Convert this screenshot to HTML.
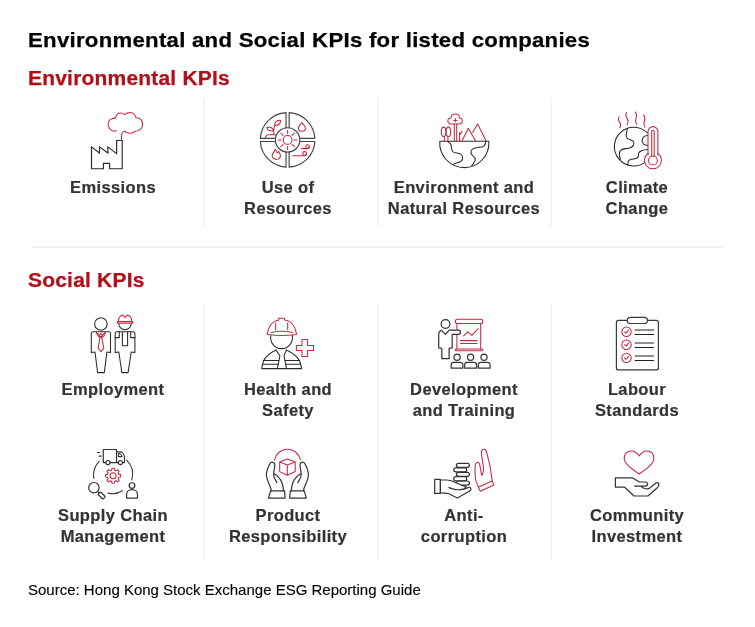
<!DOCTYPE html>
<html lang="en">
<head>
<meta charset="utf-8">
<title>Environmental and Social KPIs for listed companies</title>
<style>
html,body{margin:0;padding:0;background:#fff;}
body{width:755px;height:627px;position:relative;overflow:hidden;font-family:"Liberation Sans",Arial,sans-serif;}
.t{position:absolute;white-space:nowrap;transform-origin:0 50%;}
#title{left:28px;top:28px;font-size:20.5px;font-weight:bold;color:#000;letter-spacing:.25px;transform:scaleX(1.082);line-height:24px;-webkit-text-stroke:.25px #000;}
.sec{left:28px;font-size:19.5px;font-weight:bold;color:#b30f1b;letter-spacing:.2px;transform:scaleX(1.075);line-height:24px;-webkit-text-stroke:.25px #b30f1b;}
#env{top:66px;}
#soc{top:268px;}
.lab{position:absolute;width:200px;text-align:center;font-size:16.5px;line-height:21px;font-weight:bold;color:#333;letter-spacing:.38px;-webkit-text-stroke:.2px #333;}
#src{left:28px;top:580.5px;font-size:15px;color:#000;line-height:18px;-webkit-text-stroke:.12px #000;}
.vl{position:absolute;width:2px;background:#f4f4f4;}
.hl{position:absolute;height:2px;background:#f0f0f0;left:32px;width:690px;top:246px;}
svg#ic{position:absolute;left:0;top:0;}
</style>
</head>
<body>
<div id="title" class="t">Environmental and Social KPIs for listed companies</div>
<div id="env" class="t sec">Environmental KPIs</div>
<div id="soc" class="t sec">Social KPIs</div>

<div class="vl" style="left:203px;top:98px;height:128px"></div>
<div class="vl" style="left:377px;top:98px;height:128px"></div>
<div class="vl" style="left:550px;top:98px;height:128px"></div>
<div class="hl"></div>
<div class="vl" style="left:203px;top:303px;height:257px"></div>
<div class="vl" style="left:377px;top:303px;height:257px"></div>
<div class="vl" style="left:550px;top:303px;height:257px"></div>

<div class="lab" style="left:13px;top:177px">Emissions</div>
<div class="lab" style="left:188px;top:177px">Use of<br>Resources</div>
<div class="lab" style="left:364px;top:177px">Environment and<br>Natural Resources</div>
<div class="lab" style="left:537px;top:177px">Climate<br>Change</div>

<div class="lab" style="left:13px;top:379px">Employment</div>
<div class="lab" style="left:188px;top:379px">Health and<br>Safety</div>
<div class="lab" style="left:364px;top:379px">Development<br>and Training</div>
<div class="lab" style="left:537px;top:379px">Labour<br>Standards</div>

<div class="lab" style="left:13px;top:505px">Supply Chain<br>Management</div>
<div class="lab" style="left:188px;top:505px">Product<br>Responsibility</div>
<div class="lab" style="left:364px;top:505px">Anti-<br>corruption</div>
<div class="lab" style="left:537px;top:505px">Community<br>Investment</div>

<div id="src" class="t">Source: Hong Kong Stock Exchange ESG Reporting Guide</div>

<svg id="ic" width="755" height="627" viewBox="0 0 755 627" fill="none" stroke-linecap="round" stroke-linejoin="round" stroke-width="1.05">
<g id="i-emissions">
<path stroke="#2a2a2a" stroke-width="1.15" stroke-linejoin="miter" d="M91.5 146.9 L99.5 153 V146.9 L107.9 153 V146.9 L116.6 153.6 V140.5 H122.2 V168.7 H109.6 V163.3 H103.4 V168.7 H91.5 Z"/>
<path stroke="#c22a42" d="M116.4 130.8 C114.8 131.4 113.2 131.2 111.9 130.5 C109.6 129.4 108.2 127 108.2 124.3 C108.2 121.4 109.8 119.4 111.9 118.7 C113.2 118.2 114.4 118 115.5 118.2 C116 115.2 117.8 113 120.3 113 C122 113 123.6 113.6 124.75 114.6 C126 113.2 127.8 112.4 129.8 112.4 C132.4 112.4 134.4 113.8 135.4 116 C135.7 116.6 135.9 117.2 136.1 117.8 C137.4 117.8 138.8 118.2 139.9 118.9 C141.6 120 142.6 122 142.6 124.3 C142.6 126.8 141.4 128.8 139.4 129.9 C138 130.8 136.6 131.2 135.2 131.3 C134 132.6 132 133.2 129.8 133.2 C127.8 133.2 126 132.4 124.75 131.1 C123.4 131.6 122.4 132.4 122 133.6 C121.6 134.8 121.5 136 121.5 137.2 V140.3"/>
</g>
<g id="i-resources">
<path stroke="#444" stroke-width="1.15" d="M289.15 152.00 L289.15 167.16 A27.3 27.3 0 0 0 314.86 141.45 L299.70 141.45 M289.15 127.80 L289.15 112.64 A27.3 27.3 0 0 1 314.86 138.35 L299.70 138.35 M286.05 152.00 L286.05 167.16 A27.3 27.3 0 0 1 260.34 141.45 L275.50 141.45 M286.05 127.80 L286.05 112.64 A27.3 27.3 0 0 0 260.34 138.35 L275.50 138.35"/>
<g stroke="#c22a42">
<circle cx="287.6" cy="139.9" r="4.4"/>
<path d="M293.90 139.90 L297.20 139.90 M292.05 144.35 L294.39 146.69 M287.60 146.20 L287.60 149.50 M283.15 144.35 L280.81 146.69 M281.30 139.90 L278.00 139.90 M283.15 135.45 L280.81 133.11 M287.60 133.60 L287.60 130.30 M292.05 135.45 L294.39 133.11"/>
<!-- plant -->
<path d="M265.2 137.2 C266.2 136.8 266.4 134.8 267.8 134.8 H275.4 M273.8 134.8 C273.6 131 273.8 128 274.6 125.4 M274.6 125.4 C274.4 121.6 277.6 120.2 280.6 120.4 C280.8 123.6 278.4 125.8 274.6 125.4 Z M273.6 130.4 C272.6 127.4 269.6 126.6 266.8 127.6 C267.6 130.6 270.6 131.6 273.6 130.4 Z"/>
<!-- drop -->
<path d="M301.9 122.4 C300.6 124.6 298.4 126.4 298.4 128.2 C298.4 130 299.9 131.2 301.9 131.2 C303.9 131.2 305.5 130 305.5 128.2 C305.5 126.4 303.2 124.6 301.9 122.4 Z"/>
<!-- flame -->
<path d="M275.2 149.4 C274.6 151.8 272.2 153 272.2 155.6 C272.2 158 274 159.4 276.4 159.4 C278.8 159.4 280.4 158 280.4 155.8 C280.4 153.8 279.2 152.8 278.8 151.4 C278 152 277.4 152.4 277.2 153 C276.8 151.6 276.2 150.2 275.2 149.4 Z"/>
<!-- wind -->
<path d="M292.8 155.8 H303.4 C305.4 155.8 306.5 154.9 306.5 153.5 M301.6 148.6 H306.6 C308.4 148.6 309.4 147.8 309.4 146.5"/>
<circle cx="304.6" cy="153.5" r="1.9"/><circle cx="307.6" cy="146.5" r="1.8"/>
</g>
<circle stroke="#444" stroke-width="1.15" cx="287.6" cy="139.9" r="12.2"/>
</g>
<g id="i-environment">
<g stroke="#2a2a2a">
<path d="M439.8 141.2 H488.8 A24.57 24.57 0 1 1 439.8 141.2 Z"/>
<path d="M447.6 141.4 C449.6 142.6 451.4 144 451.4 146.4 C451.4 148.6 451.2 150.4 453 151.8 C455.4 153.6 458.6 152.6 460.6 154.2 C463 156 463.2 159 461.4 160.8 C459.4 162.8 456 162.6 453.4 164.2"/>
<path d="M485.9 141.4 C485.6 143.6 485 145.4 483.6 146.4 C481.8 147.6 479.4 147 477.2 147.4 C474.6 147.8 472.2 148.6 471.4 150.4 C470.4 152.6 471.2 154.4 472.8 155.6 C474.4 156.8 475.4 158 475.2 159.8 C475 162 473.2 163.6 471.8 165.6"/>
</g>
<g stroke="#c22a42">
<ellipse cx="443.6" cy="131.8" rx="2.3" ry="4.7"/><ellipse cx="448.4" cy="131.8" rx="2.3" ry="4.7"/>
<path d="M444.4 136.4 V141 M447.9 136.4 V141"/>
<path d="M454.3 124 V141 M456.7 124 V141"/>
<path d="M451.4 124 C449 124 447.9 122.4 447.9 120.8 C447.9 119 449.4 117.8 451.2 118 C450.8 115.8 452.8 114 455.4 114 C458 114 459.8 115.8 459.4 118 C461.2 117.8 462.3 119.2 462.3 120.8 C462.3 122.6 461 124 459 124 Z"/>
<path d="M455.4 118.6 V121.6 M453.8 120.4 H457"/>
<path d="M459.6 141 V132.6 M459.6 135 L462 131.4"/>
<path d="M462.1 140.8 L468.3 128.2 L475.5 140.8 M472.6 132.4 L477.6 124.1 L485.9 140.4"/>
</g>
</g>
<g id="i-climate">
<g stroke="#2a2a2a">
<path d="M647.6 133 A19.4 19.4 0 1 0 645 162.4"/>
<path d="M627.3 128.4 C627.6 131 625.8 133.4 626.2 136 C626.6 138.6 628.6 139.6 630.6 140 C632.6 140.4 634 141.6 633.8 143.6 C633.6 146 631.4 147.6 628.6 148.2 C626 148.8 623 148.6 621.2 150 C619.2 151.6 619.2 154.4 619.6 156.4 C619.8 157.6 620.2 158.4 620.6 159.2"/>
<path d="M647.6 135.6 C645 135.8 642.6 137.4 642.2 140 C641.8 143 644 145.2 647.6 145.6"/>
<path d="M647.8 149.6 C645.6 149.8 643.4 149.6 641.4 150.8 C639.2 152 638 153.6 638.4 155.2 C638.8 156.8 638 157.8 636.2 158.4 C633.8 159.2 631 158.8 629.2 160.2 C628 161.2 627.8 162.6 627.8 164.4"/>
</g>
<g stroke="#c22a42">
<path d="M648 155.2 V131.6 A4.95 4.95 0 0 1 657.9 131.6 V155.2"/>
<path d="M648 153.4 A8.5 8.5 0 1 0 657.9 153.4"/>
<circle cx="652.95" cy="160.4" r="4.4"/>
<path d="M651.7 156.2 V131.4 A1.25 1.25 0 0 1 654.2 131.4 V156.2"/>
<path d="M619.2 116.8 C617.6 119 618.6 120.8 619.8 122.4 C621 124 621 125.8 619.8 127.8"/>
<path d="M626.6 112.6 C625 114.8 626 116.8 627.2 118.6 C628.4 120.4 628.4 122.4 627 124.6"/>
<path d="M635.4 112 C637 114.2 636.8 116 636 118 C635.2 120 635.2 122 636.6 124.2"/>
<path d="M643.6 114.8 C645.4 117 645.2 119 644.4 121 C643.6 123 643.6 125 645 127.2"/>
</g>
</g>
<g id="i-employment">
<g stroke="#2a2a2a">
<circle cx="100.9" cy="324" r="6.3"/>
<path d="M93.3 331.8 H108.5 A2 2 0 0 1 110.5 333.8 V352.6 L106.9 352 L104.3 372.6 H97.6 L95 352 L91.3 352.6 V333.8 A2 2 0 0 1 93.3 331.8 Z"/>
<path d="M118.8 323.4 A6.2 6.2 0 0 0 131.2 323.4"/>
<path d="M117.2 331.8 H132.9 A2 2 0 0 1 134.9 333.8 V352.6 L131.2 352 L128.1 372.6 H121.9 L118.8 352 L115.2 352.6 V333.8 A2 2 0 0 1 117.2 331.8 Z"/>
<path d="M122.4 331.8 V345.8 H127.6 V331.8 M119.3 331.8 V337.6 H115.2 M130.7 331.8 V337.6 H134.9"/>
</g>
<g stroke="#c22a42">
<path d="M96.4 332 C96.6 334.6 98.4 337 100.9 337.4 C103.4 337 105.2 334.6 105.4 332 M96.4 332 L100.9 337.4 L105.4 332 M99.4 335.4 L100.9 333.6 L102.4 335.4"/>
<path d="M100 337.4 L98.1 348.4 L100.9 351.6 L103.8 348.4 L101.8 337.4"/>
<path d="M118 321.6 H132.2 A0.85 0.85 0 0 1 132.2 323.3 H118 A0.85 0.85 0 0 1 118 321.6 Z"/>
<path d="M118.4 321.6 C118.4 317.6 120.6 315.4 123 315 L125 317.6 L127 315 C129.4 315.4 131.8 317.6 131.8 321.6"/>
</g>
</g>
<g id="i-health">
<g stroke="#2a2a2a">
<path d="M270.9 335.4 A10.9 10.9 0 1 0 292.2 335.4"/>
<path d="M261.7 368.6 C262.4 363.6 263.6 359.8 266.4 356.7 C269 353.8 272.4 351.4 275.9 349.9 L279.9 355.8 L277.3 368.6 M301.6 368.6 C300.9 363.6 299.4 359.8 296.5 356.7 C293.8 353.8 290.4 351.4 286.4 349.9 L284 355.8 L286.6 368.6 M261.7 368.6 H301.6"/>
<path d="M263.4 360.5 H278.8 M262.4 364.2 H278.2 M285 360.5 H299.6 M285.7 364.2 H300.7"/>
</g>
<g stroke="#c22a42">
<path d="M267.2 334.4 C268.2 328 270.6 323.6 274.7 321.4 C276 320.6 277.4 320.2 278.8 320 V318.3 H284.5 V320 C286 320.2 287.6 320.6 289.2 321.4 C293 323.6 295.6 328 296.5 334.4 C287 335.8 277 335.8 267.2 334.4 Z"/>
<path d="M271.4 332.4 C278 331 286 331 292.4 332.4"/>
<path d="M275.7 323 V329.8 M287.7 323 V329.8"/>
<path d="M302 339.5 H307.6 V345.4 H313.5 V350.4 H307.6 V356.4 H302 V350.4 H296.4 V345.4 H302 Z"/>
</g>
</g>
<g id="i-training">
<g stroke="#c22a42">
<rect x="455.3" y="319.3" width="27.5" height="4.2" rx="2.1"/>
<path d="M456.9 323.5 V348.9 M480.7 323.5 V348.9"/>
<rect x="455.3" y="348.9" width="27.5" height="1.8" rx="0.9"/>
<path d="M463.6 335.9 L467.8 331.8 L471.9 335.4 L478.1 328.7"/>
<path d="M460.5 340.6 H477.1 M460.5 343.5 H477.1"/>
</g>
<g stroke="#333" stroke-width="1.2">
<circle cx="445.5" cy="324" r="4.35"/>
<path fill="#fff" d="M441.3 330.2 L445.5 334.4 L449.1 330.2 H458.4 A2.1 2.1 0 0 1 458.4 334.4 H452.2 V347.8 L449.1 348.4 V358.7 H441.8 V348.4 L438.7 347.8 V334.2 C438.7 332 439.8 330.8 441.3 330.2 Z"/>
<circle cx="457.1" cy="357.2" r="3.1"/><circle cx="470.6" cy="357.2" r="3.1"/><circle cx="484" cy="357.2" r="3.1"/>
<path d="M451.2 368.1 V364.9 A2.5 2.5 0 0 1 453.7 362.4 H460.4 A2.5 2.5 0 0 1 462.9 364.9 V368.1 Z"/>
<path d="M464.7 368.1 V364.9 A2.5 2.5 0 0 1 467.2 362.4 H474.1 A2.5 2.5 0 0 1 476.6 364.9 V368.1 Z"/>
<path d="M478.3 368.1 V364.9 A2.5 2.5 0 0 1 480.8 362.4 H487.6 A2.5 2.5 0 0 1 490.1 364.9 V368.1 Z"/>
</g>
</g>
<g id="i-labour">
<g stroke="#3a3a3a">
<rect x="616.4" y="320.4" width="42" height="49.5" rx="2" stroke-width="1.2"/>
<rect x="627.3" y="317.3" width="20.2" height="6.2" rx="3.1" fill="#fff" stroke-width="1.2"/>
<path stroke="#222" d="M635.1 330 H653.7 M635.1 334.5 H653.7 M635.1 343 H653.7 M635.1 347.5 H653.7 M635.1 356 H653.7 M635.1 360.5 H653.7"/>
</g>
<g stroke="#c22a42">
<circle cx="626.5" cy="331.8" r="4.7"/><circle cx="626.5" cy="344.7" r="4.7"/><circle cx="626.5" cy="357.9" r="4.7"/>
<path d="M624.6 331.8 L626 333.2 L628.6 330.2 M624.6 344.7 L626 346.1 L628.6 343.1 M624.6 357.9 L626 359.3 L628.6 356.3"/>
</g>
</g>
<g id="i-supply">
<g stroke="#333">
<path d="M99.1 461.3 A19.7 19.7 0 0 0 93.9 478.4 M126.6 460.2 A19.7 19.7 0 0 1 131.8 479.9 M107.9 492.9 C112.6 494.4 118 493.6 122.4 490.8"/>
<path stroke-width="1.2" d="M103.3 449.5 H116.5 V462.6 M103.3 449.5 V462.6 H105.6 M110.2 462.6 H118.1 M116.5 451.9 H120.6 C122.8 452.4 124.5 455 124.5 457.6 V462.6 H122.7"/>
<path d="M118.4 453.6 H120 C121.2 454.2 121.9 455.2 122 456.6 H118.4 Z"/>
<circle cx="107.9" cy="462.6" r="2.1" stroke-width="1.2"/><circle cx="120.4" cy="462.6" r="2.1" stroke-width="1.2"/>
<path d="M97.3 452.4 H99.6 M99.1 456.1 H101.2"/>
<circle cx="93.9" cy="487.7" r="5.2" stroke-width="1.2"/>
<path stroke-width="1.2" d="M97.6 491.4 L99 492.8"/>
<rect x="98.2" y="493.7" width="7" height="3.6" rx="1" transform="rotate(45 101.7 495.5)" stroke-width="1.2"/>
<circle cx="132" cy="485.6" r="2.85" stroke-width="1.2"/>
<path stroke-width="1.2" d="M126.6 498.1 V494.6 C126.6 491.6 129 489.6 132 489.6 C135 489.6 137.5 491.6 137.5 494.6 V498.1 Z"/>
</g>
<g stroke="#c22a42">
<path d="M111.70 470.17 L111.91 468.29 L114.29 468.29 L114.50 470.17 A5.8 5.8 0 0 1 116.09 470.83 L117.57 469.65 L119.25 471.33 L118.07 472.81 A5.8 5.8 0 0 1 118.73 474.40 L120.61 474.61 L120.61 476.99 L118.73 477.20 A5.8 5.8 0 0 1 118.07 478.79 L119.25 480.27 L117.57 481.95 L116.09 480.77 A5.8 5.8 0 0 1 114.50 481.43 L114.29 483.31 L111.91 483.31 L111.70 481.43 A5.8 5.8 0 0 1 110.11 480.77 L108.63 481.95 L106.95 480.27 L108.13 478.79 A5.8 5.8 0 0 1 107.47 477.20 L105.59 476.99 L105.59 474.61 L107.47 474.40 A5.8 5.8 0 0 1 108.13 472.81 L106.95 471.33 L108.63 469.65 L110.11 470.83 A5.8 5.8 0 0 1 111.70 470.17 Z"/>
<circle cx="113.1" cy="475.8" r="3"/>
</g>
</g>
<g id="i-product">
<g stroke="#c22a42">
<path d="M274.5 459.9 A13.2 13.2 0 0 1 300.4 459.9"/>
<path d="M287.3 459 L295.2 462 V471.6 L287.3 475.2 L279.7 471.6 V462 Z M279.7 462 L287.3 464.9 L295.2 462 M287.3 464.9 V475.2"/>
</g>
<g stroke="#333" stroke-width="1.2">
<g>
<path d="M271.4 490.8 C270.6 485.6 266.6 481 266.4 475.2 C266.2 471.2 268.2 467.4 269.5 464.4 C270.3 462.6 271.4 462 272.4 462.2 C273.8 462.5 274.8 463.6 274.8 465.2 C274.8 468.2 273.6 471 273.7 474.2 C274.8 474 276 474.6 277 475.6 C279 477.6 280.6 479.4 281.6 481.8 C282.8 484.6 283.4 487.6 283.5 490.8"/>
<path d="M273.7 474.2 C273.6 476.4 274.2 478.2 275.2 479.6 C275.8 480.6 276.4 481.6 276.9 482.6"/>
<path d="M270.6 490.8 H284.5 L285.1 498.1 H268.5 Z"/>
</g>
<g transform="translate(574.8 0) scale(-1 1)">
<path d="M271.4 490.8 C270.6 485.6 266.6 481 266.4 475.2 C266.2 471.2 268.2 467.4 269.5 464.4 C270.3 462.6 271.4 462 272.4 462.2 C273.8 462.5 274.8 463.6 274.8 465.2 C274.8 468.2 273.6 471 273.7 474.2 C274.8 474 276 474.6 277 475.6 C279 477.6 280.6 479.4 281.6 481.8 C282.8 484.6 283.4 487.6 283.5 490.8"/>
<path d="M273.7 474.2 C273.6 476.4 274.2 478.2 275.2 479.6 C275.8 480.6 276.4 481.6 276.9 482.6"/>
<path d="M270.6 490.8 H284.5 L285.1 498.1 H268.5 Z"/>
</g>
</g>
</g>
<g id="i-anti">
<g stroke="#333" stroke-width="1.2">
<rect x="456.4" y="463.3" width="13" height="4.1" rx="2.05"/>
<rect x="453.7" y="467.8" width="13" height="4.1" rx="2.05"/>
<rect x="456.4" y="472.3" width="13" height="4.1" rx="2.05"/>
<rect x="453.7" y="476.7" width="13" height="4.1" rx="2.05"/>
<rect x="456.4" y="481" width="13" height="4.1" rx="2.05"/>
<rect x="434.7" y="479.4" width="5.7" height="14" />
<path fill="#fff" d="M440.4 480 H447 C450.4 480 453 481.2 456 482.8 L463.6 486 C465.6 486.8 466 488.4 464.4 488.9 C461.6 489.8 458.6 489.9 455.8 489.6 C453.2 489.3 450.8 488.4 448.8 487.6 C451 488.5 453.2 489.3 455.8 489.6 C458.6 489.9 461.6 489.8 464.4 488.9 L468.6 487.5 C470.4 487 471.6 488.6 470.6 490.2 C470.2 490.8 469.6 491.2 468.8 491.6 L457.4 498 L448.8 493.8 C446.4 493 443.4 492.9 440.4 492.9 Z"/>
<path d="M464.4 488.9 C465.8 488.4 466.3 487.2 465.9 486.2"/>
</g>
<g stroke="#c22a42">
<path d="M478.2 487.2 L492.2 480.9 L493.8 485.1 L480.3 491.3 Z"/>
<path d="M478.4 487 C477 484.2 475.8 481.8 475.5 479 C475 474.6 474.8 470 475.2 466 C475.5 463.4 476.6 462 478 462.3 C479.2 462.6 479.6 463.8 479.9 465.4 C480.5 468.8 480.8 472.6 481.9 475.6 C482.8 473.6 484 471 483.6 468 C483 463 481.6 457.4 481.4 452.6 C481.3 450.4 482.6 449.2 484 449.3 C485.4 449.4 486.2 450.4 486.6 452 C488.4 459.4 490.6 467 491.3 474.4 C491.5 476.6 491.9 478.8 492.2 480.9"/>
</g>
</g>
<g id="i-community">
<path stroke="#c22a42" d="M639.2 456.1 C641.4 452.4 644.4 450.9 647.2 450.9 C651 450.9 653.9 454 653.9 458 C653.9 463.6 648 468 639.2 474 C630.4 468 624.2 463.6 624.2 458 C624.2 454 627.2 450.9 631 450.9 C634 450.9 637 452.4 639.2 456.1 Z"/>
<path stroke="#333" stroke-width="1.2" d="M634.5 486.1 H645.6 C648.2 486.1 648.2 482 645.6 482 H639.2 L632.5 477.8 H615.4 V487.2 H624.7 L634 496 H648 L657.3 487.7 C658.4 486.6 659.2 485.2 658.9 483.8 C658.5 482.4 656.8 482.2 655.6 483.2 L649.8 488 C648 489.4 643.6 489 641.3 486.7"/>
</g>
</svg>
</body>
</html>
